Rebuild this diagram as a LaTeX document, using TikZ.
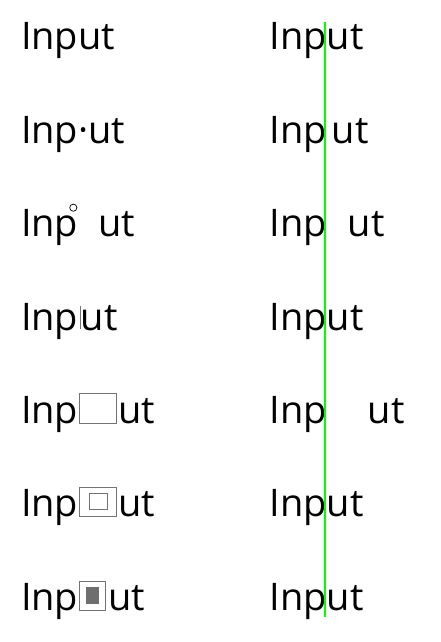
\documentclass[tikz,border=0pt]{standalone}
\usepackage{fontspec}
\setmainfont{Open Sans}
\definecolor{boxgray}{HTML}{737373}
\definecolor{fillgray}{HTML}{6E6E6E}
\definecolor{guide}{HTML}{00FF00}
\begin{document}
\begin{tikzpicture}[x=1pt,y=-1pt,
  word/.style={anchor=base west,inner sep=0pt,outer sep=0pt,font=\fontsize{38}{44}\selectfont,text=black},
  tail/.style={anchor=base west,inner sep=0pt,outer sep=0pt,font=\fontsize{38}{44}\selectfont,text=black},
  glyphbox/.style={draw=boxgray,line width=0.8pt},
  guideline/.style={draw=guide,line width=2.2pt}]
\useasboundingbox (0,0) rectangle (441,642);
% left column
\node[word] (l1) at (21,50) {Input};
\node[word] (l2) at (21,143.3) {Inp·ut};
\node[word] (l3a) at (21,236.7) {Inp};
\node[tail,xshift=20pt] (l3b) at (l3a.base east) {ut};
\draw[draw=black,line width=0.7pt] (73.3,207.7) circle[radius=3.6];
\node[word] (l4a) at (21,330) {Inp};
\node[tail,xshift=2.5pt] (l4b) at (l4a.base east) {ut};
\draw[draw=boxgray,line width=0.7pt] (80.5,306) -- (80.5,329);
\node[word] (l5a) at (21,423.3) {Inp};
\node[tail,xshift=40pt] (l5b) at (l5a.base east) {ut};
\draw[glyphbox] (79,393) rectangle (116,423);
\node[word] (l6a) at (21,516.7) {Inp};
\node[tail,xshift=40pt] (l6b) at (l6a.base east) {ut};
\draw[glyphbox] (79,487) rectangle (116,516);
\draw[glyphbox] (89,493) rectangle (107,509);
\node[word] (l7a) at (21,610) {Inp};
\node[tail,xshift=30pt] (l7b) at (l7a.base east) {ut};
\draw[glyphbox] (79,581) rectangle (105,610);
\fill[fillgray] (86,587) rectangle (99,604);
% right column
\node[word] (r1) at (269.5,50) {Input};
\node[word] (r2a) at (269.5,143.3) {Inp};
\node[tail,xshift=5pt] (r2b) at (r2a.base east) {ut};
\node[word] (r3a) at (269.5,236.7) {Inp};
\node[tail,xshift=21pt] (r3b) at (r3a.base east) {ut};
\node[word] (r4) at (269.5,330) {Input};
\node[word] (r5a) at (269.5,423.3) {Inp};
\node[tail,xshift=41pt] (r5b) at (r5a.base east) {ut};
\node[word] (r6) at (269.5,516.7) {Input};
\node[word] (r7) at (269.5,610) {Input};
\coordinate (gtop) at (325.3,22);
\coordinate (gbot) at (325.3,617);
\draw[guideline] (gtop) -- (gbot);
\end{tikzpicture}
\end{document}
